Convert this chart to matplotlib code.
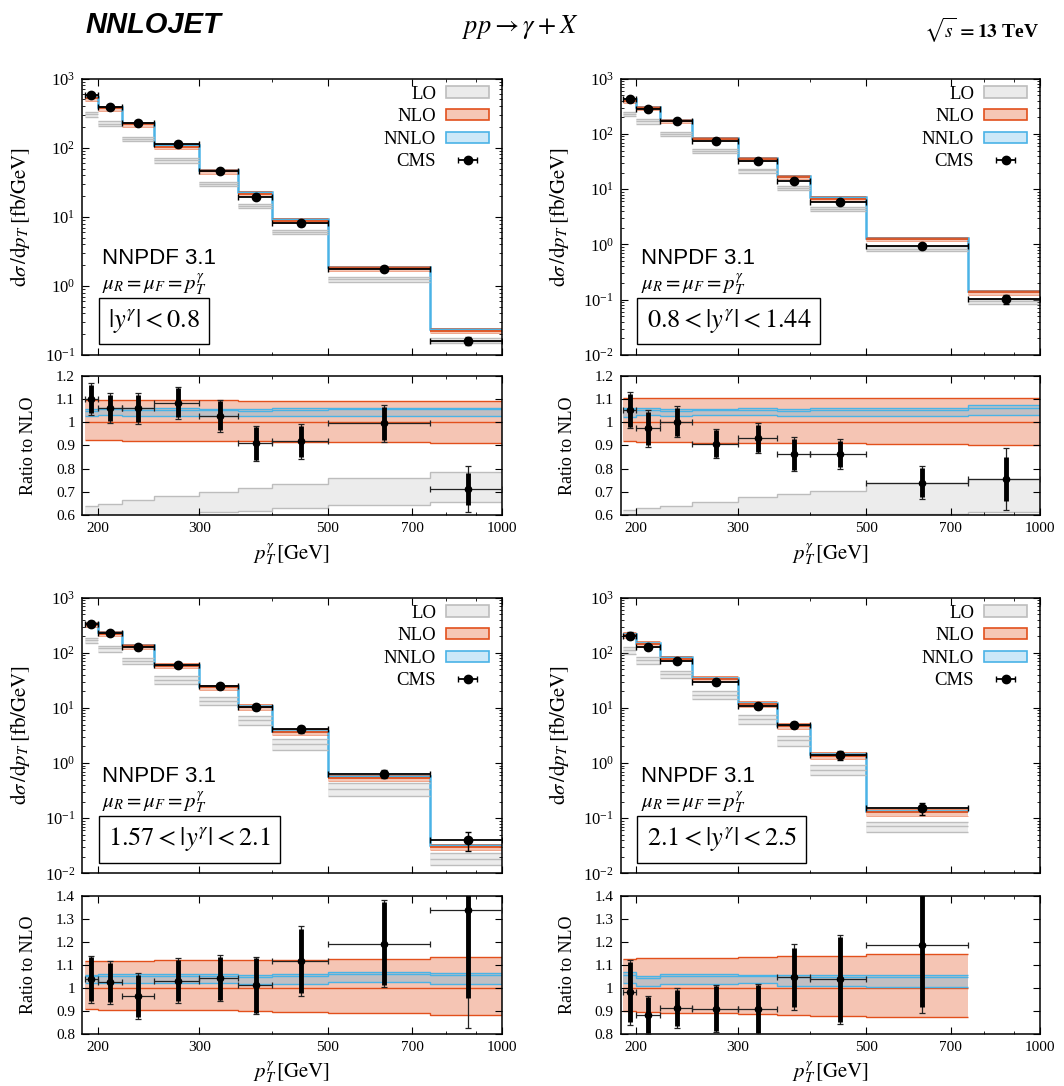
#!/usr/bin/env python3
"""
Spettri pT del fotone isolato (CMS 13 TeV) contro LO / NLO / NNLO,
quattro bin di rapidita', con pannello di rapporto rispetto a NLO.

Output: out.png
"""

import matplotlib
matplotlib.use("Agg")
import matplotlib.pyplot as plt
from matplotlib.patches import Patch
from matplotlib.ticker import FixedLocator, NullFormatter, NullLocator, FuncFormatter, MultipleLocator
import numpy as np

plt.rcParams["font.family"] = ["Liberation Serif", "DejaVu Serif"]
plt.rcParams["mathtext.fontset"] = "stix"

# bin in pT (GeV); l'ultimo pannello si ferma a 750
EDGES = [190, 200, 220, 250, 300, 350, 400, 500, 750, 1000]
RAP_LABELS = [r"$|y^{\gamma}| < 0.8$", r"$0.8 < |y^{\gamma}| < 1.44$",
              r"$1.57 < |y^{\gamma}| < 2.1$", r"$2.1 < |y^{\gamma}| < 2.5$"]
MAIN_YMIN = [1e-1, 1e-2, 1e-2, 1e-2]
RATIO_YLIM = [(0.6, 1.2), (0.6, 1.2), (0.8, 1.4), (0.8, 1.4)]

# NLO centrale, fb/GeV
NLO = [
    [523, 372, 218, 103, 45.5, 21.6, 8.8, 1.79, 0.225],
    [403, 291, 172, 81.3, 34.9, 16.6, 6.74, 1.26, 0.136],
    [325, 224, 131, 58.3, 23.7, 10.4, 3.66, 0.539, 0.0305],
    [210, 145, 78.4, 32.9, 11.8, 4.71, 1.37, 0.127],
]
# banda di scala NLO, rapporto a NLO
NLO_HI = [
    [1.097, 1.097, 1.095, 1.095, 1.094, 1.093, 1.092, 1.091, 1.089],
    [1.103, 1.103, 1.103, 1.104, 1.104, 1.104, 1.104, 1.104, 1.106],
    [1.117, 1.117, 1.118, 1.119, 1.120, 1.121, 1.122, 1.125, 1.133],
    [1.127, 1.128, 1.130, 1.131, 1.133, 1.137, 1.140, 1.146],
]
NLO_LO = [
    [0.921, 0.921, 0.920, 0.919, 0.918, 0.917, 0.916, 0.913, 0.911],
    [0.917, 0.915, 0.913, 0.912, 0.911, 0.910, 0.908, 0.906, 0.900],
    [0.907, 0.906, 0.905, 0.904, 0.902, 0.900, 0.897, 0.891, 0.881],
    [0.900, 0.895, 0.893, 0.890, 0.887, 0.883, 0.880, 0.874],
]
# NNLO, rapporto a NLO
NNLO_HI = [
    [1.058, 1.062, 1.060, 1.060, 1.058, 1.058, 1.060, 1.062, 1.062],
    [1.063, 1.062, 1.055, 1.058, 1.062, 1.055, 1.060, 1.062, 1.073],
    [1.058, 1.060, 1.060, 1.060, 1.060, 1.058, 1.060, 1.070, 1.066],
    [1.068, 1.050, 1.062, 1.062, 1.058, 1.058, 1.058, 1.056],
]
NNLO_C = [
    [1.050, 1.055, 1.053, 1.052, 1.051, 1.050, 1.052, 1.055, 1.055],
    [1.055, 1.054, 1.048, 1.051, 1.054, 1.047, 1.052, 1.054, 1.063],
    [1.050, 1.052, 1.052, 1.052, 1.052, 1.049, 1.051, 1.060, 1.056],
    [1.058, 1.041, 1.053, 1.053, 1.050, 1.049, 1.049, 1.048],
]
NNLO_LO = [
    [1.027, 1.030, 1.028, 1.028, 1.027, 1.026, 1.027, 1.028, 1.027],
    [1.024, 1.030, 1.028, 1.030, 1.030, 1.025, 1.027, 1.027, 1.030],
    [1.022, 1.022, 1.022, 1.022, 1.022, 1.018, 1.018, 1.025, 1.017],
    [1.020, 1.010, 1.018, 1.018, 1.022, 1.008, 1.008, 1.005],
]
# LO, rapporto a NLO
LO_HI = [
    [0.640, 0.648, 0.665, 0.683, 0.700, 0.717, 0.735, 0.759, 0.786],
    [0.622, 0.630, 0.640, 0.658, 0.677, 0.690, 0.704, 0.738, 0.756],
    [0.580, 0.600, 0.620, 0.640, 0.670, 0.700, 0.740, 0.790, 0.750],
    [0.600, 0.580, 0.600, 0.620, 0.640, 0.660, 0.660, 0.680],
]
LO_C = [
    [0.585, 0.598, 0.617, 0.636, 0.655, 0.667, 0.683, 0.700, 0.720],
    [0.571, 0.580, 0.592, 0.609, 0.626, 0.639, 0.652, 0.671, 0.685],
    [0.525, 0.535, 0.545, 0.555, 0.570, 0.585, 0.605, 0.630, 0.605],
    [0.525, 0.510, 0.520, 0.530, 0.540, 0.550, 0.550, 0.565],
]
LO_LO = [
    [0.530, 0.550, 0.570, 0.590, 0.612, 0.618, 0.632, 0.642, 0.655],
    [0.520, 0.530, 0.545, 0.560, 0.575, 0.588, 0.600, 0.605, 0.615],
    [0.470, 0.470, 0.470, 0.470, 0.470, 0.470, 0.470, 0.470, 0.460],
    [0.450, 0.440, 0.440, 0.440, 0.440, 0.440, 0.440, 0.450],
]
# CMS, rapporto a NLO ed errori (totale / parziale)
CMS = [
    [1.099, 1.061, 1.060, 1.083, 1.027, 0.908, 0.917, 0.995, 0.712],
    [1.051, 0.973, 1.002, 0.907, 0.931, 0.862, 0.863, 0.739, 0.756],
    [1.037, 1.024, 0.965, 1.031, 1.042, 1.011, 1.117, 1.192, 1.336],
    [0.981, 0.882, 0.913, 0.910, 0.907, 1.047, 1.037, 1.184],
]
CMS_TOT = [
    [0.070, 0.064, 0.066, 0.070, 0.070, 0.077, 0.075, 0.080, 0.100],
    [0.078, 0.080, 0.066, 0.063, 0.065, 0.074, 0.063, 0.070, 0.133],
    [0.103, 0.092, 0.100, 0.097, 0.100, 0.125, 0.150, 0.190, 0.510],
    [0.140, 0.083, 0.085, 0.103, 0.110, 0.143, 0.192, 0.293],
]
CMS_IN = [
    [0.060, 0.057, 0.058, 0.063, 0.063, 0.070, 0.068, 0.072, 0.070],
    [0.070, 0.072, 0.060, 0.057, 0.058, 0.067, 0.057, 0.063, 0.095],
    [0.095, 0.085, 0.093, 0.090, 0.093, 0.118, 0.140, 0.180, 0.380],
    [0.130, 0.078, 0.080, 0.097, 0.104, 0.128, 0.185, 0.265],
]

C_LO_LINE = "#bdbdbd"
C_LO_FILL = "#a0a0a0"
C_NLO = "#e2501c"
C_NNLO = "#4ab3e6"

FIG_W, FIG_H = 1064, 1086
COL_X = [82, 620.7]
COL_W = [420, 419.3]
ROW_MAIN = [(78.7, 355.0), (597.7, 873.3)]
ROW_RATIO = [(375.7, 515.0), (895.7, 1034.0)]


def px_axes(fig, x0, w, top, bottom):
    return fig.add_axes([x0 / FIG_W, 1 - bottom / FIG_H, w / FIG_W, (bottom - top) / FIG_H])


def style_x(ax, labels):
    ax.set_xscale("log")
    ax.set_xlim(188, 1000)
    ax.xaxis.set_major_locator(FixedLocator([200, 300, 500, 700, 1000]))
    ax.xaxis.set_minor_locator(FixedLocator([400, 800, 900]))
    ax.xaxis.set_minor_formatter(NullFormatter())
    if labels:
        ax.xaxis.set_major_formatter(FuncFormatter(lambda v, p: f"{v:g}"))
    else:
        ax.xaxis.set_major_formatter(NullFormatter())
    ax.tick_params(which="both", direction="in", top=True, right=True, labelsize=11)
    ax.tick_params(which="major", length=5, width=0.8, pad=5)
    ax.tick_params(which="minor", length=2.5, width=0.6)
    for s in ax.spines.values():
        s.set_linewidth(1.1)


def plot_main(ax, i):
    n = len(NLO[i])
    edges = np.array(EDGES[: n + 1], dtype=float)
    nlo = np.array(NLO[i])
    lo_hi, lo_c, lo_lo = (np.array(a[i]) * nlo for a in (LO_HI, LO_C, LO_LO))
    nlo_hi, nlo_lo = np.array(NLO_HI[i]) * nlo, np.array(NLO_LO[i]) * nlo
    nn_hi, nn_c, nn_lo = (np.array(a[i]) * nlo for a in (NNLO_HI, NNLO_C, NNLO_LO))
    data = np.array(CMS[i]) * nlo
    derr = np.array(CMS_TOT[i]) * nlo
    centers = 0.5 * (edges[:-1] + edges[1:])
    halfw = 0.5 * (edges[1:] - edges[:-1])

    # LO
    ax.stairs(lo_hi, edges, baseline=lo_lo, fill=True, color=C_LO_FILL, alpha=0.2, lw=0)
    for v in (lo_hi, lo_c, lo_lo):
        ax.hlines(v, edges[:-1], edges[1:], color=C_LO_LINE, lw=1.0)
    # NLO
    ax.stairs(nlo_hi, edges, baseline=nlo_lo, fill=True, color=C_NLO, alpha=0.33, lw=0)
    ax.hlines(nlo_hi, edges[:-1], edges[1:], color=C_NLO, lw=0.6, alpha=0.6)
    ax.hlines(nlo_lo, edges[:-1], edges[1:], color=C_NLO, lw=0.6, alpha=0.6)
    ax.hlines(nlo, edges[:-1], edges[1:], color=C_NLO, lw=1.3)
    # NNLO
    ax.stairs(nn_hi, edges, baseline=nn_lo, fill=True, color=C_NNLO, alpha=0.3, lw=0)
    ax.stairs(nn_c, edges, baseline=None, color=C_NNLO, lw=1.8)
    # CMS
    cms = ax.errorbar(centers, data, xerr=halfw, fmt="o", color="black", ms=6,
                      elinewidth=1.3, capsize=2.5, capthick=1.0, label="CMS", zorder=5)
    ax.errorbar(centers, data, yerr=derr, fmt="none", ecolor="black",
                elinewidth=1.0, capsize=2.5, capthick=1.0, zorder=5)

    ax.set_yscale("log")
    ax.set_ylim(MAIN_YMIN[i], 1e3)
    style_x(ax, False)
    ax.tick_params(axis="y", labelsize=12)
    ax.set_ylabel(r"$\mathrm{d}\sigma\,/\mathrm{d}p_T\;[\mathrm{fb}/\mathrm{GeV}]$", fontsize=15)
    ax.yaxis.set_label_coords(-0.119, 0.5)

    handles = [
        Patch(facecolor="#ebebeb", edgecolor=C_LO_LINE, lw=1.2),
        Patch(facecolor="#f6c7b5", edgecolor=C_NLO, lw=1.2),
        Patch(facecolor="#cce8f8", edgecolor=C_NNLO, lw=1.2),
        cms,
    ]
    ax.legend(handles, ["LO", "NLO", "NNLO", "CMS"], loc="upper right",
              bbox_to_anchor=(0.97, 0.975), frameon=False, markerfirst=False,
              fontsize=13.5, handlelength=2.3, handleheight=0.55, handletextpad=0.55,
              labelspacing=0.3, borderaxespad=0, borderpad=0)

    ax.text(0.048, 0.35, "NNPDF 3.1", transform=ax.transAxes, fontsize=16,
            family=["Liberation Sans", "DejaVu Sans"], va="center", ha="left")
    ax.text(0.048, 0.255, r"$\mu_R = \mu_F = p_T^{\gamma}$", transform=ax.transAxes,
            fontsize=15, va="center", ha="left")
    ax.text(0.062, 0.123, RAP_LABELS[i], transform=ax.transAxes, fontsize=19,
            va="center", ha="left",
            bbox=dict(boxstyle="square,pad=0.35", fc="white", ec="black", lw=1.0))


def plot_ratio(ax, i):
    n = len(NLO[i])
    edges = np.array(EDGES[: n + 1], dtype=float)
    centers = 0.5 * (edges[:-1] + edges[1:])
    halfw = 0.5 * (edges[1:] - edges[:-1])
    ones = np.ones(n)

    # NLO
    ax.stairs(NLO_HI[i], edges, baseline=NLO_LO[i], fill=True, color=C_NLO, alpha=0.33, lw=0)
    ax.stairs(NLO_HI[i], edges, baseline=None, color=C_NLO, lw=1.0)
    ax.stairs(NLO_LO[i], edges, baseline=None, color=C_NLO, lw=1.0)
    ax.stairs(ones, edges, baseline=None, color=C_NLO, lw=1.0)
    # NNLO
    ax.stairs(NNLO_HI[i], edges, baseline=NNLO_LO[i], fill=True, color=C_NNLO, alpha=0.3, lw=0)
    for v in (NNLO_HI[i], NNLO_C[i], NNLO_LO[i]):
        ax.stairs(v, edges, baseline=None, color=C_NNLO, lw=1.0)
    # LO
    ax.stairs(LO_HI[i], edges, baseline=LO_LO[i], fill=True, color=C_LO_FILL, alpha=0.2, lw=0)
    ax.stairs(LO_HI[i], edges, baseline=None, color=C_LO_LINE, lw=1.0)
    ax.stairs(LO_LO[i], edges, baseline=None, color=C_LO_LINE, lw=1.0)
    # CMS
    ax.errorbar(centers, CMS[i], xerr=halfw, yerr=CMS_TOT[i], fmt="none", ecolor="#222222",
                elinewidth=0.9, capsize=2.5, capthick=0.9, zorder=5)
    ax.errorbar(centers, CMS[i], yerr=CMS_IN[i], fmt="o", color="black", ms=4.5,
                elinewidth=3.5, capsize=0, zorder=6)

    ax.set_ylim(*RATIO_YLIM[i])
    ax.yaxis.set_major_locator(MultipleLocator(0.1))
    ax.yaxis.set_minor_locator(NullLocator())
    ax.yaxis.set_major_formatter(FuncFormatter(lambda v, p: f"{round(v, 2):g}"))
    style_x(ax, True)
    ax.set_ylabel("Ratio to NLO", fontsize=13)
    ax.yaxis.set_label_coords(-0.107, 0.5)
    ax.set_xlabel(r"$p_T^{\gamma}\,[\mathrm{GeV}]$", fontsize=15)
    ax.xaxis.set_label_coords(0.5, -0.19)


def main():
    fig = plt.figure(figsize=(FIG_W / 100, FIG_H / 100), dpi=100)
    for i in range(4):
        row, col = divmod(i, 2)
        ax_m = px_axes(fig, COL_X[col], COL_W[col], *ROW_MAIN[row])
        ax_r = px_axes(fig, COL_X[col], COL_W[col], *ROW_RATIO[row])
        plot_main(ax_m, i)
        plot_ratio(ax_r, i)

    fig.text(0.08, 0.977, "NNLOJET", fontsize=21, fontweight="bold", fontstyle="italic",
             family=["Liberation Sans", "DejaVu Sans"], va="center", ha="left")
    fig.text(0.489, 0.975, r"$pp \rightarrow \gamma + X$", fontsize=19, va="center", ha="center")
    fig.text(0.977, 0.972, r"$\sqrt{s}\,\mathbf{=13}$ TeV", fontsize=14, fontweight="bold",
             va="center", ha="right")

    fig.savefig("out.png", dpi=100)
    plt.close(fig)


if __name__ == "__main__":
    main()
